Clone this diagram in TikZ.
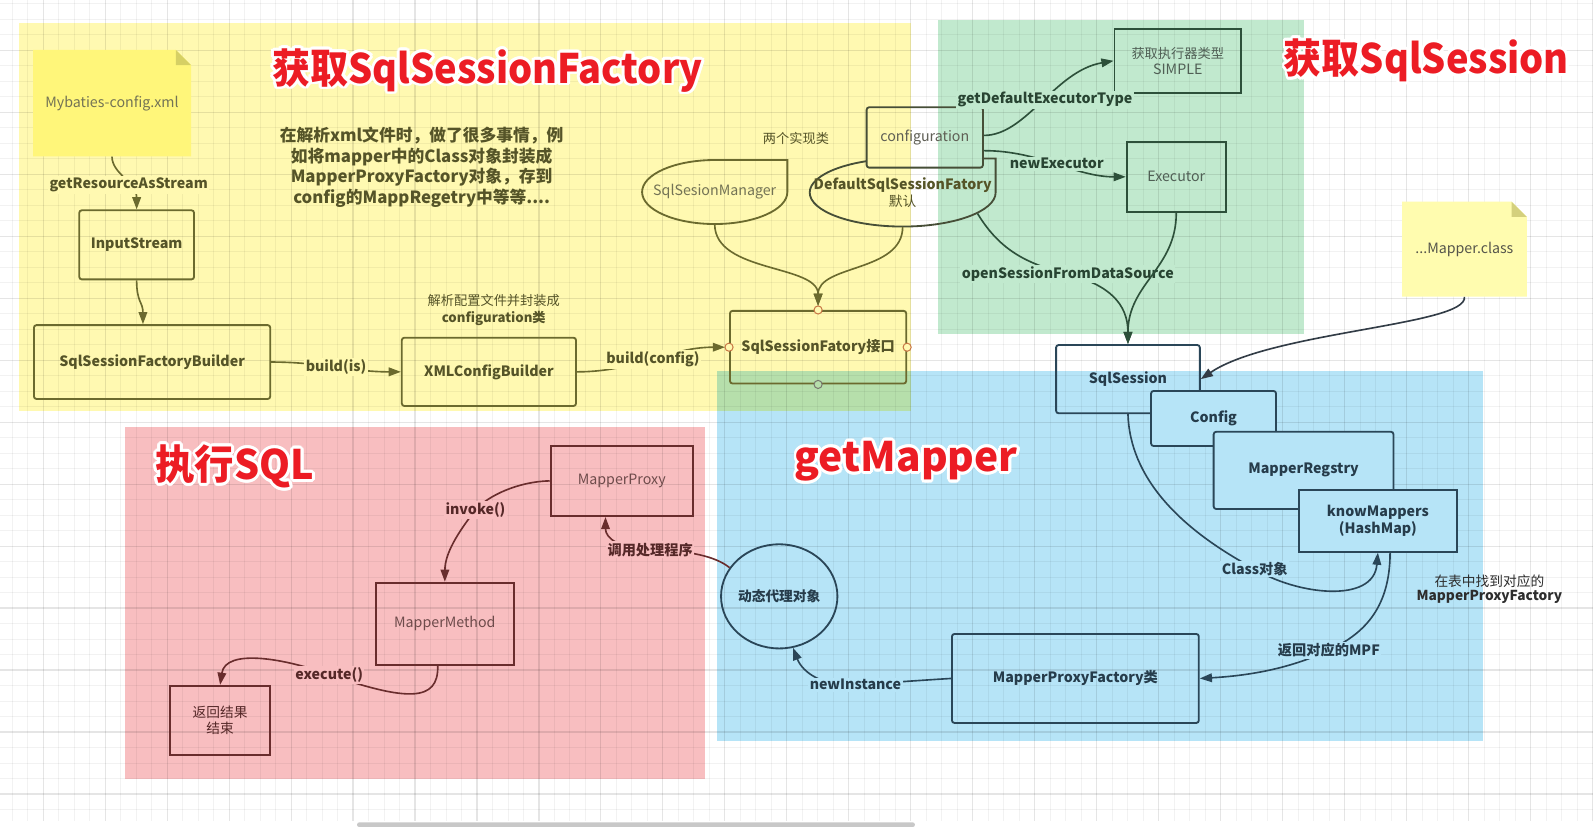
\documentclass[tikz,border=0pt]{standalone}
\usepackage{fontspec}
\setmainfont{Noto Sans CJK SC}
\usetikzlibrary{arrows.meta,calc,shapes.geometric}

\definecolor{ybg}{RGB}{255,249,177}
\definecolor{gbg}{RGB}{193,233,206}
\definecolor{bbg}{RGB}{182,228,247}
\definecolor{rbg}{RGB}{248,190,192}
\definecolor{ovbg}{RGB}{182,223,171}
\definecolor{yline}{RGB}{107,106,46}
\definecolor{ytext}{RGB}{85,84,40}
\definecolor{ygray}{RGB}{115,115,85}
\definecolor{confline}{RGB}{70,78,55}
\definecolor{conftext}{RGB}{95,95,85}
\definecolor{gline}{RGB}{45,80,58}
\definecolor{gtext}{RGB}{40,68,50}
\definecolor{ggray}{RGB}{80,95,85}
\definecolor{bline}{RGB}{42,70,88}
\definecolor{btext}{RGB}{38,60,75}
\definecolor{darkline}{RGB}{50,60,70}
\definecolor{findc}{RGB}{45,45,45}
\definecolor{rline}{RGB}{105,45,45}
\definecolor{rtext}{RGB}{85,40,40}
\definecolor{rgray}{RGB}{110,75,75}
\definecolor{note1}{RGB}{255,246,122}
\definecolor{note1f}{RGB}{214,208,100}
\definecolor{note2}{RGB}{255,252,175}
\definecolor{note2f}{RGB}{212,208,125}
\definecolor{notetext}{RGB}{85,85,75}
\definecolor{titlered}{RGB}{236,28,36}
\definecolor{portc}{RGB}{200,120,70}
\definecolor{portg}{RGB}{120,120,110}
\definecolor{scrollc}{RGB}{200,200,200}

\newcommand\halotitle[4]{%
  \foreach \a [count=\hi] in {0,22.5,...,337.5} {
    \node[titlefont, text=white] (#1h\hi) at ($(#2)+(\a:2.8)$) {\scalebox{#3}[1]{#4}};
  }
  \node[titlefont, text=titlered] (#1) at (#2) {\scalebox{#3}[1]{#4}};
}

\tikzset{
  every node/.style={inner sep=0pt},
  titlefont/.style={font=\bfseries\fontsize{40}{48}\selectfont},
  boxbase/.style={draw, line width=1.8pt, inner sep=0pt, align=center},
  ybox/.style={boxbase, draw=yline, rounded corners=2.5pt, text=ytext, font=\bfseries\fontsize{14}{17}\selectfont},
  gbox/.style={boxbase, draw=gline, text=ggray, font=\fontsize{14}{17}\selectfont},
  bbox/.style={boxbase, draw=bline, rounded corners=2.5pt, text=btext, font=\bfseries\fontsize{14}{16}\selectfont},
  rbox/.style={boxbase, draw=rline, text=rgray, font=\fontsize{14}{17}\selectfont},
  edgebase/.style={line width=1.6pt, -{Triangle[length=12pt,width=8.5pt]}},
  yedge/.style={edgebase, draw=yline},
  gedge/.style={edgebase, draw=gline},
  bedge/.style={edgebase, draw=bline},
  dedge/.style={edgebase, draw=darkline},
  redge/.style={edgebase, draw=rline},
  labbase/.style={inner sep=1.5pt, font=\bfseries\fontsize{14}{17}\selectfont},
  ylab/.style={labbase, fill=ybg, text=ytext},
  glab/.style={labbase, fill=gbg, text=gtext},
  blab/.style={labbase, fill=bbg, text=btext},
  rlab/.style={labbase, fill=rbg, text=rtext},
  mingrid/.style={draw=black, draw opacity=0.05, line width=0.9pt},
  majgrid/.style={draw=black, draw opacity=0.1, line width=1.1pt},
  port/.style={circle, line width=1pt, minimum size=8pt, inner sep=0pt},
  shapeline/.style={line width=1.8pt},
}

\begin{document}
\begin{tikzpicture}[x=1pt,y=-1pt]
\useasboundingbox (0,0) rectangle (1568,814);
\fill[white] (0,0) rectangle (1568,814);

% ---------- regions ----------
\fill[ybg] (19,22.3) rectangle (896.6,404.5);
\fill[gbg] (923,19.7) rectangle (1284,328.7);
\fill[bbg] (705.7,365) rectangle (1459.7,729);
\fill[ovbg] (705.7,365) rectangle (896.6,404.5);
\fill[rbg] (123,420) rectangle (694,766.7);

% ---------- grid ----------
\foreach \i in {-2,...,100}{
  \pgfmathtruncatemacro\gm{mod(\i+8,4)}
  \ifnum\gm=0
    \draw[majgrid] ({42.5+15.25*\i},0) -- ({42.5+15.25*\i},808);
  \else
    \draw[mingrid] ({42.5+15.25*\i},0) -- ({42.5+15.25*\i},808);
  \fi
}
\foreach \j in {-3,...,49}{
  \pgfmathtruncatemacro\gm{mod(\j+12,4)}
  \ifnum\gm=0
    \draw[majgrid] (0,{49.5+15.25*\j}) -- (1568,{49.5+15.25*\j});
  \else
    \draw[mingrid] (0,{49.5+15.25*\j}) -- (1568,{49.5+15.25*\j});
  \fi
}
\fill[scrollc, rounded corners=2pt] (351.5,809.5) rectangle (900.5,814);

% ---------- titles ----------
\halotitle{t1}{480,69}{0.935}{获取SqlSessionFactory}
\halotitle{t2}{1404,59.5}{0.935}{获取SqlSession}
\halotitle{t3}{231,459}{0.97}{执行SQL}
\halotitle{t4}{892,454}{1}{getMapper}

% ---------- yellow part ----------
\fill[note1] (32.5,49) -- (173,49) -- (188,64) -- (188,154) -- (32.5,154) -- cycle;
\fill[note1f] (173,49) -- (188,64) -- (173,64) -- cycle;
\node[font=\fontsize{14}{17}\selectfont, text=ygray, minimum width=155.5pt, minimum height=105pt] (cfgnote) at (110.25,101.5) {Mybaties-config.xml};

\node[font=\bfseries\fontsize{16.5}{20.3}\selectfont, text=ytext, align=center] (para) at (415,164.5)
  {在解析xml文件时，做了很多事情，例\\如将mapper中的Class对象封装成\\MapperProxyFactory对象，存到\\config的MappRegetry中等等....};

\node[ybox, minimum width=113pt, minimum height=68pt] (inp) at (134.5,241) {InputStream};
\node[ybox, minimum width=232.6pt, minimum height=72.7pt] (sfb) at (149.7,356.35) {SqlSessionFactoryBuilder};
\node[ybox, minimum width=171.5pt, minimum height=67.2pt] (xml) at (481.25,366) {XMLConfigBuilder};
\node[ybox, minimum width=173.5pt, minimum height=71.5pt] (ssf) at (805.25,341.75) {SqlSessionFatory接口};

\node[font=\fontsize{13}{16}\selectfont, text=ytext, align=center] (xmlnote) at (486,305) {解析配置文件并封装成\\\textbf{configuration类}};
\node[font=\fontsize{13}{16}\selectfont, text=ytext] (two) at (783.5,136) {两个实现类};

% SqlSesionManager shape
\draw[shapeline, draw=yline] (703.5,157.5) -- (775,157.5) -- (775,189)
  .. controls (775,206.4) and (743,220.5) .. (703.5,220.5)
  .. controls (664,220.5) and (632,206.4) .. (632,189)
  .. controls (632,171.6) and (664,157.5) .. (703.5,157.5) -- cycle;
\node[font=\fontsize{14}{17}\selectfont, text=ygray, minimum width=143pt, minimum height=63pt] (mgr) at (703.5,189) {SqlSesionManager};

% DefaultSqlSessionFatory shape (hidden behind configuration box)
\begin{scope}
  \clip (0,0) rectangle (853,814) (967.5,0) rectangle (1568,814) (0,165) rectangle (1568,814);
  \draw[shapeline, draw=confline] (888.5,156) -- (980,156) -- (980,189.5)
    .. controls (980,208) and (939,223) .. (888.5,223)
    .. controls (838,223) and (797,208) .. (797,189.5)
    .. controls (797,171) and (838,156) .. (888.5,156) -- cycle;
\end{scope}
\node[align=center, minimum width=183pt, minimum height=67pt, text=ytext, font=\fontsize{13.5}{16}\selectfont] (dsf) at (888.5,189.5) {\textbf{\fontsize{14}{16}\selectfont DefaultSqlSessionFatory}\\默认};

\node[boxbase, draw=confline, rounded corners=2.5pt, text=conftext, font=\fontsize{14}{17}\selectfont, minimum width=114.5pt, minimum height=59.4pt] (conf) at (910.25,135.3) {configuration};

% yellow edges
\draw[yedge] (cfgnote.south) .. controls +(0,17) and +(0,-27) .. (inp.north) node[pos=0.62, ylab] {getResourceAsStream};
\draw[yedge] (inp.south) .. controls +(0,22) and +(0,-22) .. ($(sfb.north)+(-9,0)$);
\draw[yedge] (sfb.east) to[out=0,in=180] node[ylab] {build(is)} (xml.west);
\draw[yedge, shorten >=4pt] (xml.east) to[out=0,in=180] node[ylab] {build(config)} (ssf.west);
\draw[yedge, shorten >=4pt] (mgr.south) .. controls +(0,48) and +(0,-45) .. (ssf.north);
\draw[yedge, shorten >=4pt] (dsf.south) .. controls +(0,45) and +(0,-45) .. (ssf.north);

\node[port, draw=portc, fill=ybg] (pt1) at (ssf.north) {};
\node[port, draw=portc, fill=ybg] (pt2) at (ssf.west) {};
\node[port, draw=portc, fill=ybg] (pt3) at (ssf.east) {};
\node[port, draw=portg, fill=ovbg] (pt4) at (ssf.south) {};

% ---------- green part ----------
\node[gbox, minimum width=124.5pt, minimum height=62.7pt, font=\fontsize{13}{16}\selectfont] (simple) at (1159.25,59.85) {获取执行器类型\\{\fontsize{14}{16}\selectfont SIMPLE}};
\node[gbox, minimum width=97.6pt, minimum height=69.3pt] (exe) at (1157.8,174.05) {Executor};

\node[bbox, minimum width=141.5pt, minimum height=67.2pt] (sess) at (1110.25,373.2) {SqlSession};

\draw[gedge] ($(conf.east)+(0,-2)$) .. controls +(42,0) and +(-58,10) .. (simple.west) node[pos=0.52, glab] {getDefaultExecutorType};
\draw[gedge] ($(conf.east)+(0,13)$) .. controls +(55,0) and +(-50,0) .. (exe.west) node[pos=0.5, glab] {newExecutor};
\draw[gedge] ($(dsf.south east)+(-18,-13)$) .. controls +(23,38) and +(-38,-10) .. (1051,270) node[glab] {openSessionFromDataSource}
  .. controls +(40,10) and +(0,-40) .. (sess.north);
\draw[gedge] (exe.south) .. controls +(0,55) and +(0,-60) .. (sess.north);

% ---------- blue part ----------
\node[bbox, fill=bbg, minimum width=123pt, minimum height=54.2pt] (config) at (1194.5,411.9) {Config};
\node[bbox, fill=bbg, minimum width=177pt, minimum height=76pt] (mreg) at (1283.1,463) {MapperRegstry};
\node[bbox, fill=bbg, rounded corners=0pt, minimum width=155.5pt, minimum height=61pt] (known) at (1356.25,512.5) {knowMappers\\(HashMap)};
\node[bbox, minimum width=243pt, minimum height=87.6pt] (mpf) at (1058.5,667.8) {MapperProxyFactory类};
\node[ellipse, draw=bline, line width=1.8pt, minimum width=113.5pt, minimum height=102.5pt, text=btext, font=\bfseries\fontsize{13.5}{16}\selectfont] (pobj) at (767,587) {动态代理对象};
\node[align=center, font=\fontsize{13.5}{14.5}\selectfont, text=findc] (findtxt) at (1466,580) {在表中找到对应的\\\textbf{MapperProxyFactory}};

\fill[note2] (1380,198.5) -- (1487.8,198.5) -- (1502.8,213.5) -- (1502.8,292) -- (1380,292) -- cycle;
\fill[note2f] (1487.8,198.5) -- (1502.8,213.5) -- (1487.8,213.5) -- cycle;
\node[font=\fontsize{14}{17}\selectfont, text=notetext, minimum width=122.8pt, minimum height=93.5pt] (mapnote) at (1441.4,245.25) {...Mapper.class};

\draw[dedge] (mapnote.south) .. controls +(4,28) and +(69,-47) .. (sess.east);
\draw[bedge] (sess.south) .. controls +(2,62) and (1160,520) .. (1235,560) node[blab] {Class对象}
  .. controls (1275,585) and (1352,595) .. (known.south);
\draw[bedge] ($(known.south)+(12,0)$) .. controls +(0,57) and (1340,625) .. (1308,640) node[blab] {返回对应的MPF}
  .. controls (1270,658) and (1230,665) .. (mpf.east);
\draw[bedge] (mpf.west) .. controls (900,670) and (860,673) .. (842,674) node[blab] {newInstance}
  .. controls (810,676) and (790,662) .. (pobj.-75);

% ---------- red part ----------
\node[rbox, minimum width=140pt, minimum height=69.4pt] (mproxy) at (612,473.3) {MapperProxy};
\node[rbox, minimum width=136.3pt, minimum height=81pt] (mmethod) at (437.85,614) {MapperMethod};
\node[rbox, minimum width=98pt, minimum height=68pt, text=rtext, font=\fontsize{13.5}{16}\selectfont] (result) at (216.7,709) {返回结果\\结束};

\draw[redge] (pobj.150) .. controls (705,548) and (680,542) .. (640,541) node[rlab] {调用处理程序}
  .. controls (610,540) and (596,530) .. ($(mproxy.south)+(-16,0)$);
\draw[redge] (mproxy.west) .. controls (510,474) and (480,488) .. (468,502) node[rlab] {invoke()}
  .. controls (450,525) and (438,545) .. (mmethod.north);
\draw[redge] ($(mmethod.south)+(-7,0)$) .. controls +(1,36) and (400,690) .. (324,664) node[rlab] {execute()}
  .. controls (280,648) and (222,638) .. (result.north);

\end{tikzpicture}
\end{document}
